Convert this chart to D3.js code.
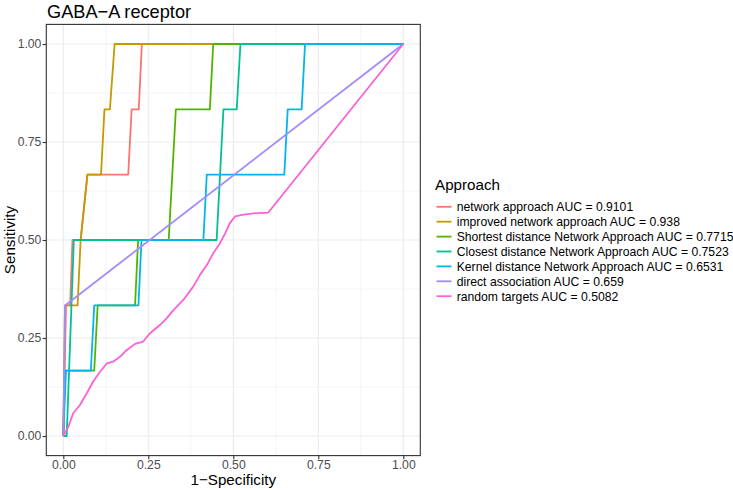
<!DOCTYPE html>
<html>
<head>
<meta charset="utf-8">
<script src="https://cdn.jsdelivr.net/npm/d3@7"></script>
<style>
  body { margin: 0; background: #fff; }
  text { font-family: "Liberation Sans", Arial, sans-serif; }
</style>
</head>
<body>
<svg id="chart" width="733" height="490"></svg>
<script>
// ROC curves (x = 1 - specificity, y = sensitivity)
const approaches = [
  "network approach AUC = 0.9101",
  "improved network approach AUC = 0.938",
  "Shortest distance Network Approach AUC = 0.7715",
  "Closest distance Network Approach AUC = 0.7523",
  "Kernel distance Network Approach AUC = 0.6531",
  "direct association AUC = 0.659",
  "random targets AUC = 0.5082"
];
const colors = ["#F8766D", "#C49A00", "#53B400", "#00C094", "#00B6EB", "#A58AFF", "#FB61D7"];

const networkFpr = [0, 0.008, 0.02, 0.027, 0.051, 0.071, 0.191, 0.201, 0.222, 0.231, 1];
const networkTpr = [0, 0.333, 0.333, 0.5, 0.5, 0.667, 0.667, 0.833, 0.833, 1, 1];

const improvedFpr = [0, 0.005, 0.042, 0.051, 0.071, 0.111, 0.121, 0.137, 0.151, 1];
const improvedTpr = [0, 0.333, 0.333, 0.5, 0.667, 0.667, 0.833, 0.833, 1, 1];

const shortestFpr = [0, 0.005, 0.091, 0.101, 0.211, 0.22, 0.31, 0.331, 0.431, 0.441, 1];
const shortestTpr = [0, 0.167, 0.167, 0.333, 0.333, 0.5, 0.5, 0.833, 0.833, 1, 1];

const closestFpr = [0, 0.01, 0.031, 0.451, 0.471, 0.51, 0.521, 1];
const closestTpr = [0, 0, 0.5, 0.5, 0.833, 0.833, 1, 1];

const kernelFpr = [0, 0.008, 0.081, 0.091, 0.221, 0.23, 0.412, 0.422, 0.65, 0.66, 0.701, 0.711, 1];
const kernelTpr = [0, 0.167, 0.167, 0.333, 0.333, 0.5, 0.5, 0.667, 0.667, 0.833, 0.833, 1, 1];

const directFpr = [0, 0.005, 1];
const directTpr = [0, 0.333, 1];

const randomFpr = [0, 0.015, 0.029, 0.049, 0.069, 0.088, 0.108, 0.128, 0.147, 0.167, 0.186, 0.211,
  0.235, 0.255, 0.284, 0.304, 0.324, 0.353, 0.382, 0.402, 0.422, 0.441, 0.461, 0.476, 0.49,
  0.505, 0.53, 0.56, 0.603, 1];
const randomTpr = [0, 0.024, 0.058, 0.079, 0.109, 0.139, 0.164, 0.185, 0.19, 0.202, 0.219, 0.235,
  0.241, 0.262, 0.283, 0.3, 0.321, 0.347, 0.381, 0.411, 0.436, 0.466, 0.492, 0.517, 0.543,
  0.56, 0.565, 0.568, 0.57, 1];

const fprs = [networkFpr, improvedFpr, shortestFpr, closestFpr, kernelFpr, directFpr, randomFpr];
const tprs = [networkTpr, improvedTpr, shortestTpr, closestTpr, kernelTpr, directTpr, randomTpr];

const ticks = [0, 0.25, 0.5, 0.75, 1];
const minorTicks = [0.125, 0.375, 0.625, 0.875];

const svg = d3.select("#chart");
const panel = { left: 46.3, right: 420.3, top: 24.4, bottom: 455.6 };

const x = d3.scaleLinear().domain([-0.05, 1.05]).range([panel.left, panel.right]);
const y = d3.scaleLinear().domain([-0.05, 1.05]).range([panel.bottom, panel.top]);

// grid
const grid = svg.append("g");
grid.selectAll(".vminor").data(minorTicks).join("line")
  .attr("x1", d => x(d)).attr("x2", d => x(d))
  .attr("y1", panel.top).attr("y2", panel.bottom)
  .attr("stroke", "#EBEBEB").attr("stroke-width", 0.55);
grid.selectAll(".hminor").data(minorTicks).join("line")
  .attr("y1", d => y(d)).attr("y2", d => y(d))
  .attr("x1", panel.left).attr("x2", panel.right)
  .attr("stroke", "#EBEBEB").attr("stroke-width", 0.55);
grid.selectAll(".vmajor").data(ticks).join("line")
  .attr("x1", d => x(d)).attr("x2", d => x(d))
  .attr("y1", panel.top).attr("y2", panel.bottom)
  .attr("stroke", "#EBEBEB").attr("stroke-width", 1.1);
grid.selectAll(".hmajor").data(ticks).join("line")
  .attr("y1", d => y(d)).attr("y2", d => y(d))
  .attr("x1", panel.left).attr("x2", panel.right)
  .attr("stroke", "#EBEBEB").attr("stroke-width", 1.1);

// curves
const line = d3.line().x(d => x(d[0])).y(d => y(d[1]));
approaches.forEach((name, i) => {
  const pts = fprs[i].map((f, j) => [f, tprs[i][j]]);
  svg.append("path")
    .datum(pts)
    .attr("d", line)
    .attr("fill", "none")
    .attr("stroke", colors[i])
    .attr("stroke-width", 1.8)
    .attr("stroke-linejoin", "round");
});

// panel border
svg.append("rect")
  .attr("x", panel.left).attr("y", panel.top)
  .attr("width", panel.right - panel.left).attr("height", panel.bottom - panel.top)
  .attr("fill", "none").attr("stroke", "#333333").attr("stroke-width", 1.1);

// axes
const fmt = d3.format(".2f");
const xAxis = svg.append("g")
  .attr("transform", `translate(0,${panel.bottom})`)
  .call(d3.axisBottom(x).tickValues(ticks).tickFormat(fmt).tickSize(3.7).tickPadding(1.3));
const yAxis = svg.append("g")
  .attr("transform", `translate(${panel.left},0)`)
  .call(d3.axisLeft(y).tickValues(ticks).tickFormat(fmt).tickSize(3.7).tickPadding(1.2));
[xAxis, yAxis].forEach(a => {
  a.select(".domain").remove();
  a.selectAll(".tick line").attr("stroke", "#333333").attr("stroke-width", 1.1);
  a.selectAll(".tick text").attr("fill", "#4D4D4D")
    .style("font-size", "12.2px").style("font-family", "'Liberation Sans', Arial, sans-serif");
});

// titles
svg.append("text").attr("x", 47).attr("y", 17.5)
  .style("font-size", "18.2px").attr("fill", "#000").text("GABA\u2212A receptor");
svg.append("text").attr("x", x(0.5)).attr("y", 485).attr("text-anchor", "middle")
  .style("font-size", "15.2px").text("1\u2212Specificity");
svg.append("text").attr("transform", `translate(15,${y(0.5)}) rotate(-90)`)
  .attr("text-anchor", "middle").style("font-size", "15.2px").text("Sensitivity");

// legend
const legend = svg.append("g").attr("transform", "translate(435,0)");
legend.append("text").attr("x", 0).attr("y", 190)
  .style("font-size", "15.2px").text("Approach");
const items = legend.selectAll(".item").data(approaches).join("g")
  .attr("transform", (d, i) => `translate(0,${206.8 + i * 14.9})`);
items.append("line")
  .attr("x1", 1.5).attr("x2", 16.5)
  .attr("stroke", (d, i) => colors[i]).attr("stroke-width", 1.8);
items.append("text").attr("x", 21.7).attr("y", 4.3)
  .style("font-size", "12.2px").text(d => d);
</script>
</body>
</html>
